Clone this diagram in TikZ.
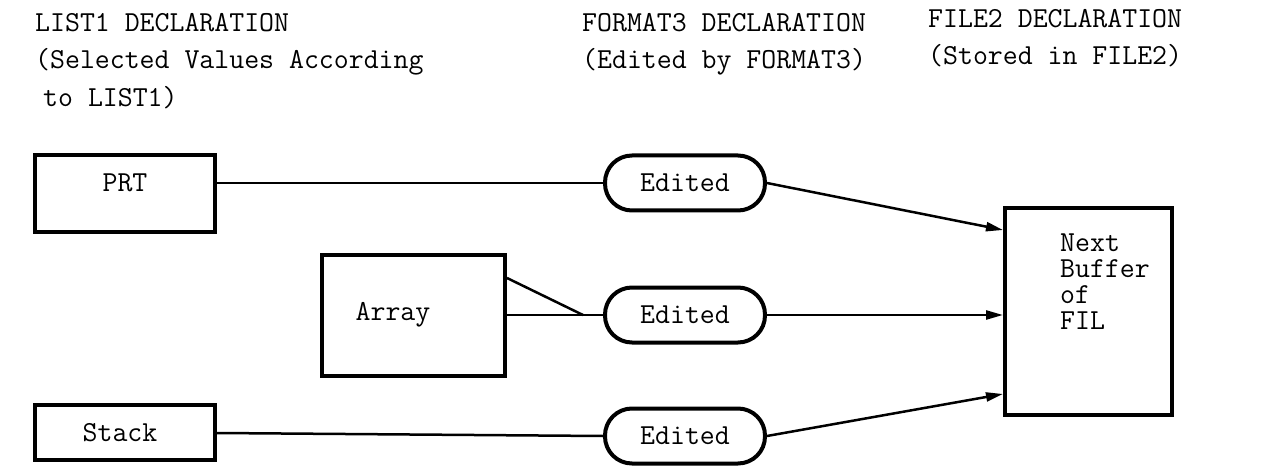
\documentclass[tikz,border=0pt]{standalone}
\usepackage{fontspec}
\usetikzlibrary{arrows.meta,calc}
\begin{document}
\begin{tikzpicture}[x=1pt,y=-1pt,
  txt/.style={font=\ttfamily\fontsize{29}{37.5}\selectfont, inner sep=0pt, align=left},
  lbl/.style={font=\ttfamily\fontsize{29}{26}\selectfont, inner sep=0pt, align=left},
  box/.style={draw, line width=4pt, rectangle, inner sep=0pt},
  pill/.style={draw, line width=4pt, rectangle, rounded corners=27pt, minimum width=160pt, minimum height=55pt, inner sep=0pt, font=\ttfamily\fontsize{29}{22}\selectfont},
  conn/.style={line width=2.5pt},
  arr/.style={line width=2.5pt, -{Triangle[length=17pt,width=9pt]}}]
\useasboundingbox (0,0) rectangle (1286,468);
% titles
\node[txt, anchor=north west] (t1) at (35,13) {LIST1 DECLARATION\\(Selected Values According\\\hspace{8pt}to LIST1)};
\node[txt, anchor=north west] (t2) at (582,13) {FORMAT3 DECLARATION\\(Edited by FORMAT3)};
\node[txt, anchor=north west] (t3) at (928,9) {FILE2 DECLARATION\\(Stored in FILE2)};
% boxes
\node[box, minimum width=180pt, minimum height=77pt] (prt) at (125,193.5) {};
\node[lbl] (prtT) at (125,183) {PRT};
\node[box, minimum width=183pt, minimum height=121pt] (arr) at (413.5,315.5) {};
\node[lbl] (arrT) at (393,315) {Array};
\node[box, minimum width=180pt, minimum height=55pt] (st) at (125,432.5) {};
\node[lbl] (stT) at (120,433) {Stack};
\node[pill] (e1) at (685,183) {Edited};
\node[pill] (e2) at (685,315) {Edited};
\node[pill] (e3) at (685,436) {Edited};
\node[box, minimum width=167pt, minimum height=207pt] (buf) at (1088.5,311.5) {};
\node[lbl, anchor=north west] (bufT) at (1060,234) {Next\\Buffer\\of\\FIL};
% connectors
\coordinate (j) at (583,315);
\draw[conn] (prtT -| prt.east) -- (e1.west);
\draw[conn] (arrT -| arr.east) -- (e2.west);
\draw[conn] ([yshift=-25pt]arr.north east) -- (j);
\draw[conn] (stT -| st.east) -- (e3.west);
\draw[arr] (e1.east) -- ([yshift=-24pt]buf.north west);
\draw[arr] (e2.east) -- (e2 -| buf.west);
\draw[arr] (e3.east) -- ([yshift=23pt]buf.south west);
\end{tikzpicture}
\end{document}
